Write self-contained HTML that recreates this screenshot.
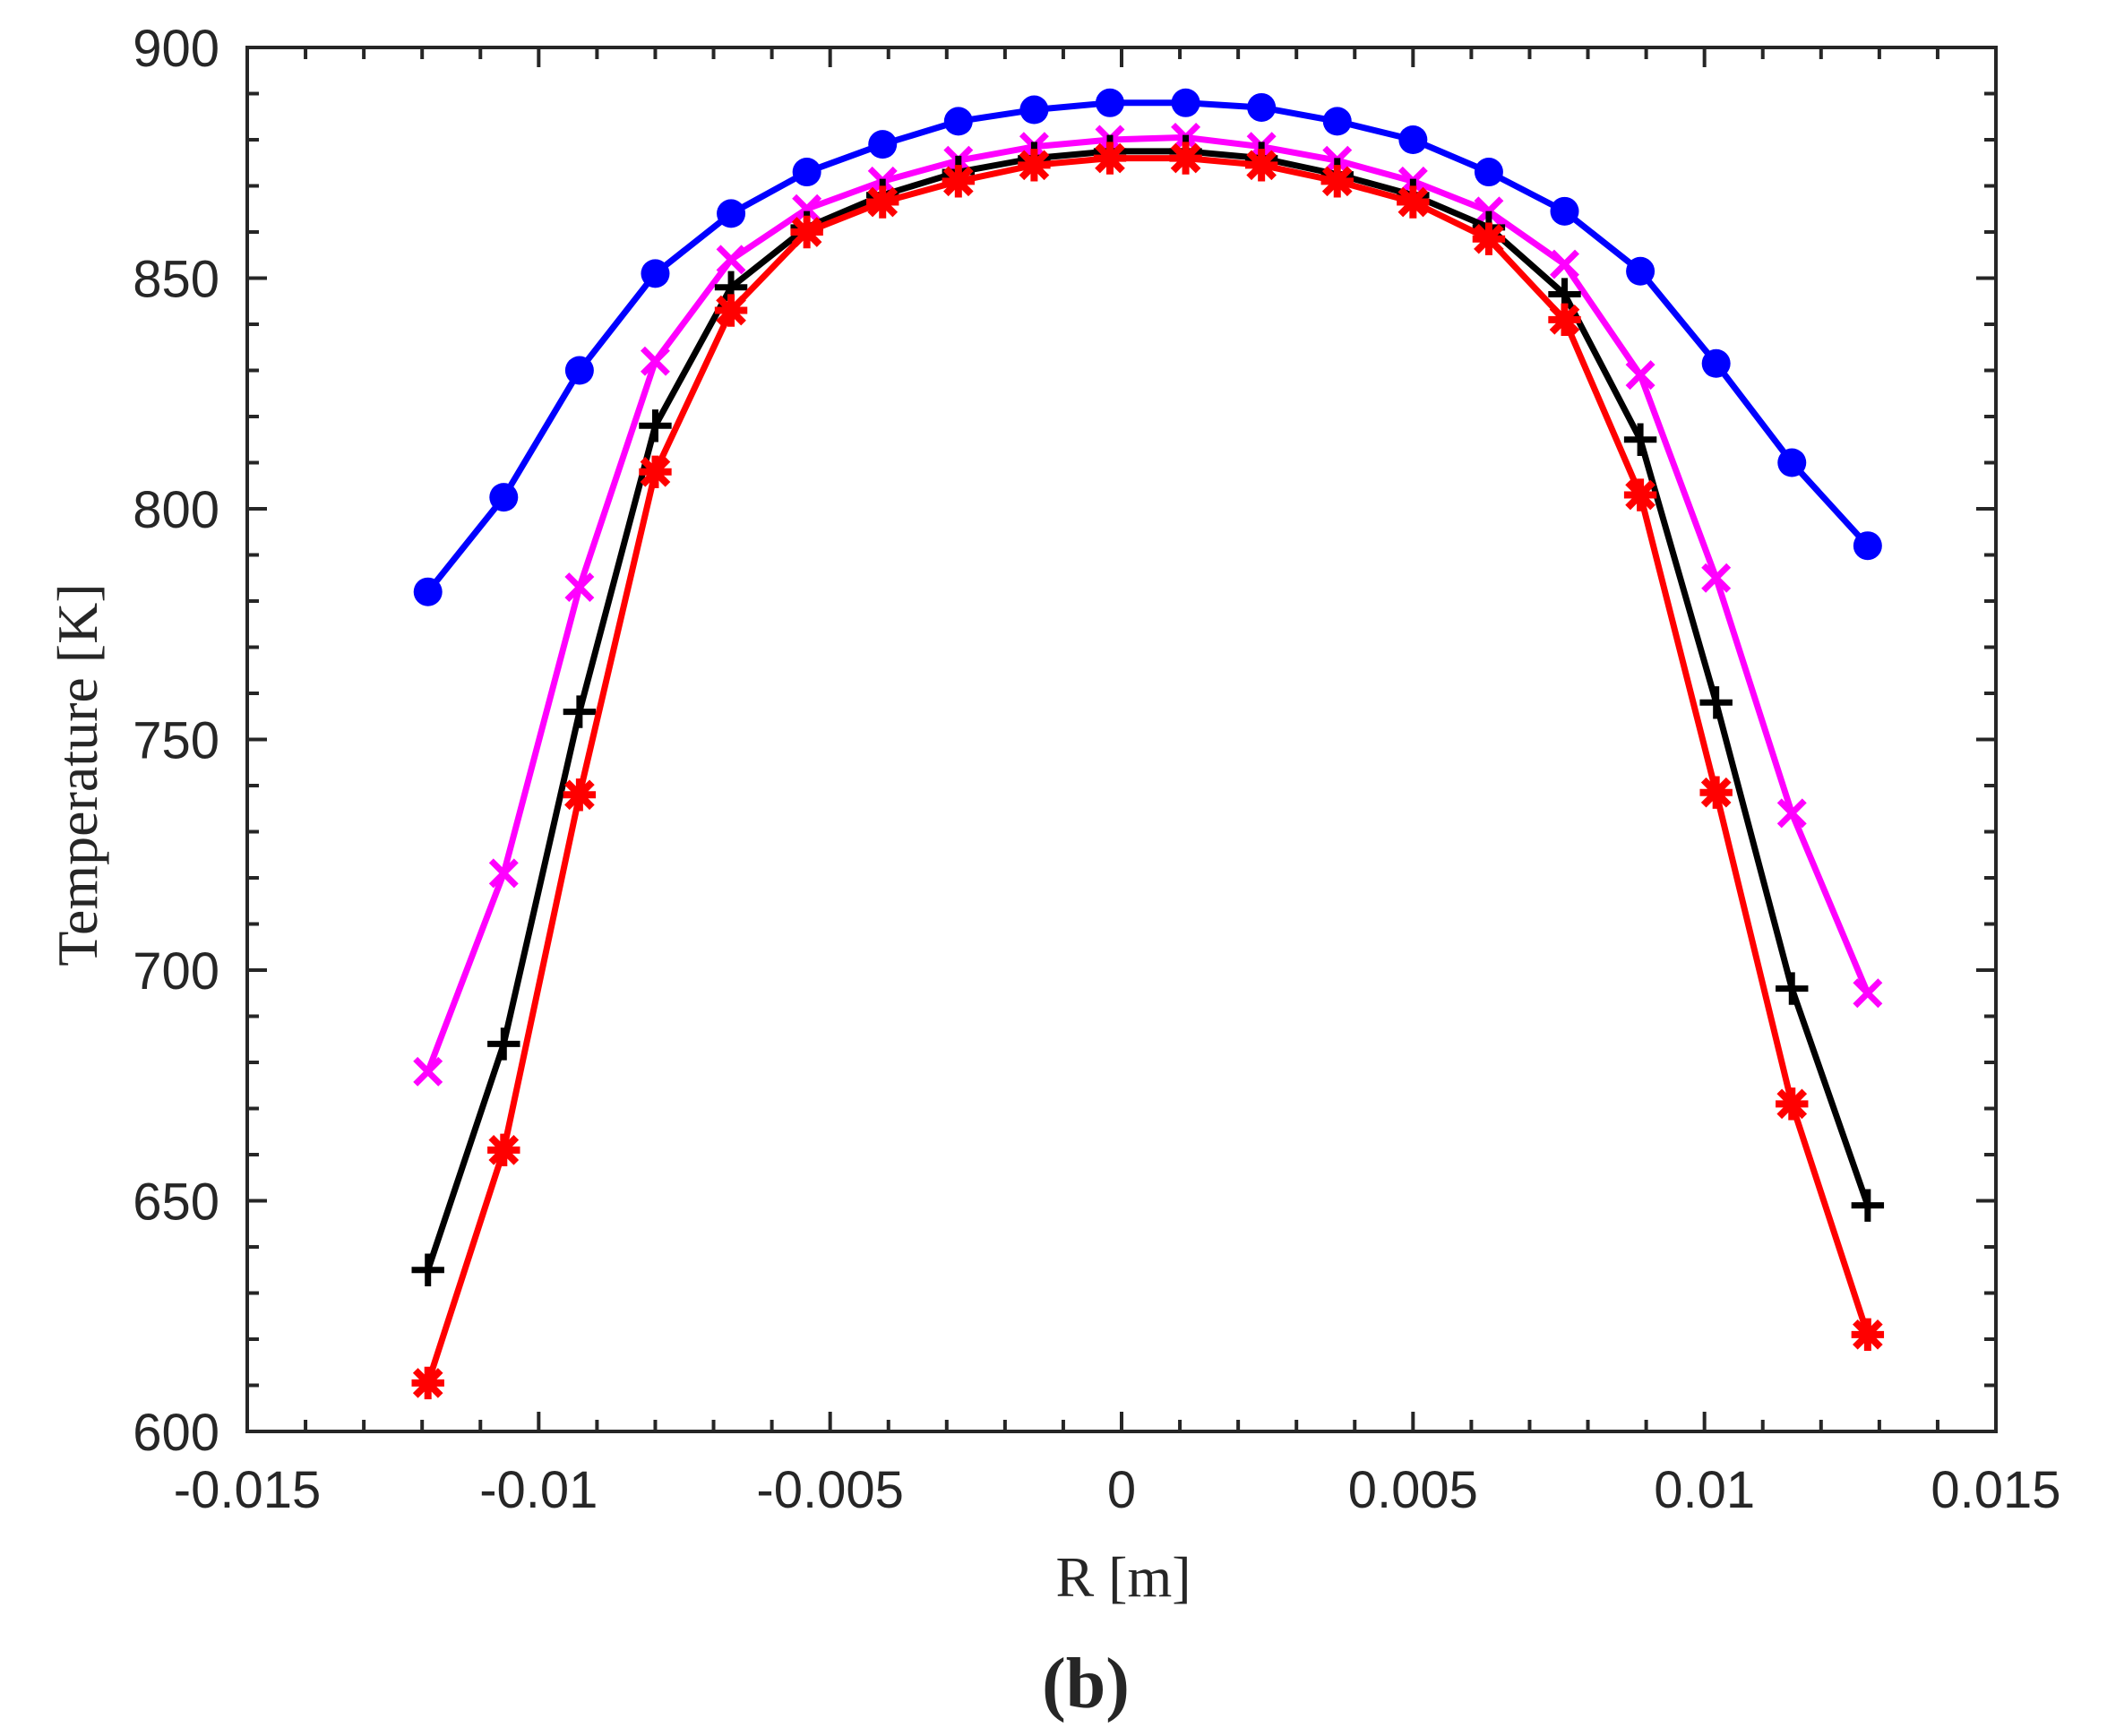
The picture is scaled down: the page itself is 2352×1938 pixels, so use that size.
<!DOCTYPE html>
<html><head><meta charset="utf-8"><style>
html,body{margin:0;padding:0;background:#fff;}
svg{display:block;}
.tk{font-family:"Liberation Sans",Arial,sans-serif;font-size:58px;fill:#262626;}
.ttl{font-family:"Liberation Serif",serif;font-size:64px;fill:#262626;}
</style></head><body>
<svg id="chart" width="2352" height="1938" viewBox="0 0 2352 1938" xmlns="http://www.w3.org/2000/svg">
<g id="axes"></g>
<g id="series"></g>
<text class="ttl" x="1254" y="1782" text-anchor="middle">R [m]</text>
<text class="ttl" transform="translate(108,865) rotate(-90)" text-anchor="middle">Temperature [K]</text>
<text x="1212" y="1906" text-anchor="middle" style="font-family:'Liberation Serif',serif;font-size:80px;font-weight:bold;fill:#262626">(b)</text>
</svg>
<script>
const xValues = [-0.0119,-0.0106,-0.0093,-0.0080,-0.0067,-0.0054,-0.0041,-0.0028,-0.0015,-0.0002,0.0011,0.0024,0.0037,0.0050,0.0063,0.0076,0.0089,0.0102,0.0115,0.0128];
const blueValues = [782,802.5,830,851,864,873,879,884,886.5,888,888,887,884,880,873,864.5,851.5,831.5,810,792];
const magentaValues = [678,721,783,832,854,865,871,875.5,878.5,880,880.5,878.5,875.5,871,864.5,853,829,785,734,695];
const blackValues = [635,684,756,818,848,861,868,873,876,877.5,877.5,876,872.5,868,861,846.5,815,758,696,649];
const redValues = [610.5,661,738,808,843,860,866.5,871,874.5,876,876,874.5,871,866.5,858.5,841,803,738.5,671,621];
const xTicks = [-0.015,-0.01,-0.005,0,0.005,0.01,0.015];
const xTickLabels = ["-0.015","-0.01","-0.005","0","0.005","0.01","0.015"];
const yTicks = [600,650,700,750,800,850,900];
const yTickLabels = ["600","650","700","750","800","850","900"];

const L=276,R=2228,T=53,B=1598;
const xMin=-0.015,xMax=0.015,yMin=600,yMax=900;
const sx=v=>L+(v-xMin)/(xMax-xMin)*(R-L);
const sy=v=>B-(v-yMin)/(yMax-yMin)*(B-T);
const NS="http://www.w3.org/2000/svg";
function mk(tag,attrs,parent){const e=document.createElementNS(NS,tag);for(const k in attrs)e.setAttribute(k,attrs[k]);parent.appendChild(e);return e;}
const ax=document.getElementById('axes');
const sr=document.getElementById('series');
const box=mk('rect',{x:L,y:T,width:R-L,height:B-T,fill:'none',stroke:'#262626','stroke-width':4},ax);


for(let i=0;i<=30;i++){const v=xMin+i*0.001;const x=sx(v);const major=i%5===0;const len=major?22:13;
 const t1=mk('line',{x1:x,y1:B,x2:x,y2:B-len,stroke:'#262626','stroke-width':4},ax);
 
 
 const t2=mk('line',{x1:x,y1:T,x2:x,y2:T+len,stroke:'#262626','stroke-width':4},ax);
 
 }
for(let i=0;i<=30;i++){const v=yMin+i*10;const y=sy(v);const major=i%5===0;const len=major?22:13;
 const t1=mk('line',{x1:L,y1:y,x2:L+len,y2:y,stroke:'#262626','stroke-width':4},ax);
 
 
 const t2=mk('line',{x1:R,y1:y,x2:R-len,y2:y,stroke:'#262626','stroke-width':4},ax);
 
 }
xTicks.forEach((v,i)=>{const t=mk('text',{x:sx(v),y:1683,'text-anchor':'middle',class:'tk'},ax);t.textContent=xTickLabels[i];
 
 });
yTicks.forEach((v,i)=>{const t=mk('text',{x:245,y:sy(v)+21,'text-anchor':'end',class:'tk'},ax);t.textContent=yTickLabels[i];
 
 });

function drawSeries(vals,color,marker,name){
 const g=mk('g',{},sr);
 
 
 const pts=vals.map((v,i)=>sx(xValues[i])+','+sy(v)).join(' ');
 const pl=mk('polyline',{points:pts,fill:'none',stroke:color,'stroke-width':7,'stroke-linejoin':'round'},g);
 
 
 vals.forEach((v,i)=>{const x=sx(xValues[i]),y=sy(v);let m;
  if(marker==='circle'){m=mk('circle',{cx:x,cy:y,r:16,fill:color},g);}
  else{const s=14;let d='';
   if(marker==='x'||marker==='star')d+=`M${x-s} ${y-s}L${x+s} ${y+s}M${x-s} ${y+s}L${x+s} ${y-s}`;
   if(marker==='plus'||marker==='star')d+=`M${x-s*1.3} ${y}L${x+s*1.3} ${y}M${x} ${y-s*1.3}L${x} ${y+s*1.3}`;
   m=mk('path',{d:d,stroke:color,'stroke-width':marker==='star'?8:7,fill:'none'},g);}
  
  });
}
drawSeries(blueValues,'#0000ff','circle','series-blue');
drawSeries(magentaValues,'#ff00ff','x','series-magenta');
drawSeries(blackValues,'#000000','plus','series-black');
drawSeries(redValues,'#ff0000','star','series-red');
</script>
</body></html>
